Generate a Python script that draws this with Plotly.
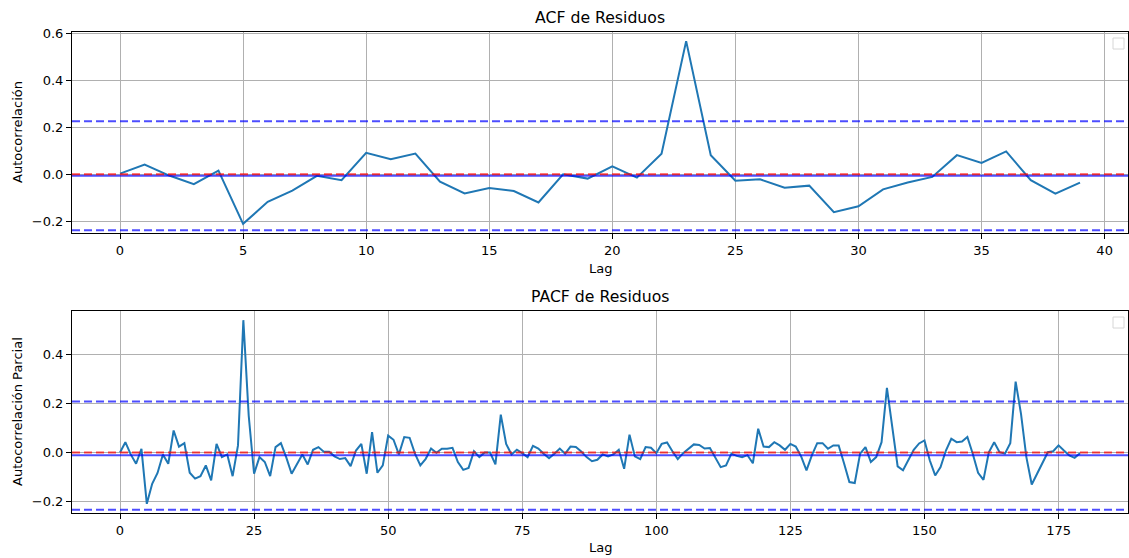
import plotly.graph_objects as go

# Autocorrelation of residuals (lags 0-39)
acf_lags = list(range(40))
acf_vals = [0.003, 0.042, -0.005, -0.042, 0.016, -0.211, -0.117, -0.069, -0.006, -0.025,
            0.092, 0.065, 0.089, -0.031, -0.081, -0.058, -0.071, -0.120, 0.000, -0.018,
            0.034, -0.014, 0.088, 0.568, 0.082, -0.027, -0.021, -0.057, -0.048, -0.161,
            -0.136, -0.064, -0.035, -0.011, 0.082, 0.049, 0.098, -0.025, -0.082, -0.035]

# Partial autocorrelation of residuals (lags 0-179)
pacf_lags = list(range(180))
pacf_vals = [0.000, 0.042, -0.008, -0.046, 0.015, -0.210, -0.128, -0.084, -0.008, -0.046,
             0.090, 0.024, 0.038, -0.083, -0.107, -0.097, -0.053, -0.114, 0.035, -0.019,
             -0.008, -0.097, 0.029, 0.541, 0.150, -0.087, -0.019, -0.039, -0.097, 0.022,
             0.038, -0.020, -0.087, -0.046, -0.008, -0.049, 0.011, 0.022, 0.003, 0.003,
             -0.016, -0.027, -0.023, -0.056, 0.008, 0.035, -0.087, 0.083, -0.083, -0.053,
             0.069, 0.052, -0.008, 0.063, 0.060, -0.005, -0.053, -0.026, 0.016, -0.001,
             0.015, 0.015, 0.019, -0.039, -0.071, -0.063, 0.005, -0.019, 0.000, 0.000,
             -0.049, 0.155, 0.035, -0.008, 0.011, -0.003, -0.019, 0.027, 0.016, -0.005,
             -0.023, -0.005, 0.016, -0.005, 0.024, 0.022, 0.004, -0.019, -0.036, -0.030,
             -0.008, -0.016, -0.008, 0.011, -0.067, 0.073, -0.016, -0.027, 0.022, 0.019,
             -0.003, 0.035, 0.041, 0.005, -0.027, -0.003, 0.014, 0.033, 0.031, 0.016,
             0.018, -0.019, -0.060, -0.053, -0.005, -0.014, -0.019, -0.011, -0.044, 0.097,
             0.024, 0.022, 0.042, 0.029, 0.011, 0.035, 0.024, -0.016, -0.073, -0.012,
             0.038, 0.038, 0.015, 0.029, 0.029, -0.044, -0.121, -0.125, -0.005, 0.022,
             -0.039, -0.019, 0.042, 0.264, 0.103, -0.057, -0.073, -0.033, 0.011, 0.037,
             0.049, -0.033, -0.094, -0.060, 0.008, 0.056, 0.042, 0.045, 0.063, -0.005,
             -0.083, -0.112, 0.001, 0.042, 0.001, -0.005, 0.038, 0.290, 0.158, -0.019,
             -0.131, -0.087, -0.046, 0.001, 0.005, 0.029, 0.008, -0.012, -0.022, -0.003]

# Reference lines: mean level and confidence band for each panel
acf_mean, acf_upper, acf_lower = -0.006, 0.226, -0.238
pacf_mean, pacf_upper, pacf_lower = -0.011, 0.208, -0.234

acf_yticks = [-0.2, 0.0, 0.2, 0.4, 0.6]
acf_xticks = [0, 5, 10, 15, 20, 25, 30, 35, 40]
pacf_yticks = [-0.2, 0.0, 0.2, 0.4]
pacf_xticks = [0, 25, 50, 75, 100, 125, 150, 175]

W, H = 1129, 558
FONT = "DejaVu Sans"
LINE_C = "#1f77b4"


def px(v):
    return v / W


def py(v):
    return 1 - v / H


def margin_range(vals, frac=0.05):
    lo, hi = min(vals), max(vals)
    pad = (hi - lo) * frac
    return [lo - pad, hi + pad]


fig = go.Figure()
fig.add_trace(go.Scatter(x=acf_lags, y=acf_vals, mode="lines",
                         line=dict(color=LINE_C, width=2), xaxis="x", yaxis="y",
                         showlegend=False))
fig.add_trace(go.Scatter(x=pacf_lags, y=pacf_vals, mode="lines",
                         line=dict(color=LINE_C, width=2), xaxis="x2", yaxis="y2",
                         showlegend=False))

axis_common = dict(
    showline=True, linecolor="black", linewidth=1, mirror=True,
    ticks="outside", ticklen=5, tickwidth=1, tickcolor="black",
    showgrid=True, gridcolor="#b0b0b0", gridwidth=1,
    zeroline=False, automargin=False,
    tickfont=dict(family=FONT, size=13, color="black"),
)

x_dom = [px(72), px(1128)]
fig.update_layout(
    width=W, height=H,
    margin=dict(l=0, r=0, t=0, b=0),
    paper_bgcolor="white", plot_bgcolor="white",
    showlegend=False,
    xaxis=dict(domain=x_dom, anchor="y", range=margin_range(acf_lags),
               tickvals=acf_xticks, **axis_common),
    yaxis=dict(domain=[py(233), py(32)], anchor="x", range=margin_range(acf_vals),
               tickvals=acf_yticks, tickformat=".1f", **axis_common),
    xaxis2=dict(domain=x_dom, anchor="y2", range=margin_range(pacf_lags),
                tickvals=pacf_xticks, **axis_common),
    yaxis2=dict(domain=[py(513), py(311)], anchor="x2", range=margin_range(pacf_vals),
                tickvals=pacf_yticks, tickformat=".1f", **axis_common),
)

shapes = []
for xr, yr, mean, up, low in [("x domain", "y", acf_mean, acf_upper, acf_lower),
                              ("x2 domain", "y2", pacf_mean, pacf_upper, pacf_lower)]:
    shapes.append(dict(type="line", xref=xr, yref=yr, x0=0, x1=1, y0=mean, y1=mean,
                       line=dict(color="rgba(0,0,255,0.7)", width=2)))
    shapes.append(dict(type="line", xref=xr, yref=yr, x0=0, x1=1, y0=0, y1=0,
                       line=dict(color="rgba(255,0,0,0.7)", width=2, dash="8px,4px")))
    for lvl in (up, low):
        shapes.append(dict(type="line", xref=xr, yref=yr, x0=0, x1=1, y0=lvl, y1=lvl,
                           line=dict(color="rgba(0,0,255,0.7)", width=2, dash="8px,4px")))

# empty legend frames in the upper-right corner of each panel
for top in (38, 317):
    shapes.append(dict(type="rect", xref="paper", yref="paper",
                       x0=px(1113), x1=px(1124), y0=py(top + 11), y1=py(top),
                       line=dict(color="#d6d6d6", width=1), fillcolor="rgba(255,255,255,0.8)"))
fig.update_layout(shapes=shapes)

annotations = [
    dict(text="ACF de Residuos", x=px(600), y=py(17), size=15.7),
    dict(text="PACF de Residuos", x=px(600), y=py(296), size=15.7),
    dict(text="Lag", x=px(600), y=py(268), size=13),
    dict(text="Lag", x=px(600), y=py(547), size=13),
    dict(text="Autocorrelación", x=px(17), y=py(132), size=13, angle=-90),
    dict(text="Autocorrelación Parcial", x=px(17), y=py(412), size=13, angle=-90),
]
fig.update_layout(annotations=[
    dict(text=a["text"], x=a["x"], y=a["y"], xref="paper", yref="paper",
         xanchor="center", yanchor="middle", showarrow=False,
         textangle=a.get("angle", 0),
         font=dict(family=FONT, size=a["size"], color="black"))
    for a in annotations
])

fig.write_html("out.html")
